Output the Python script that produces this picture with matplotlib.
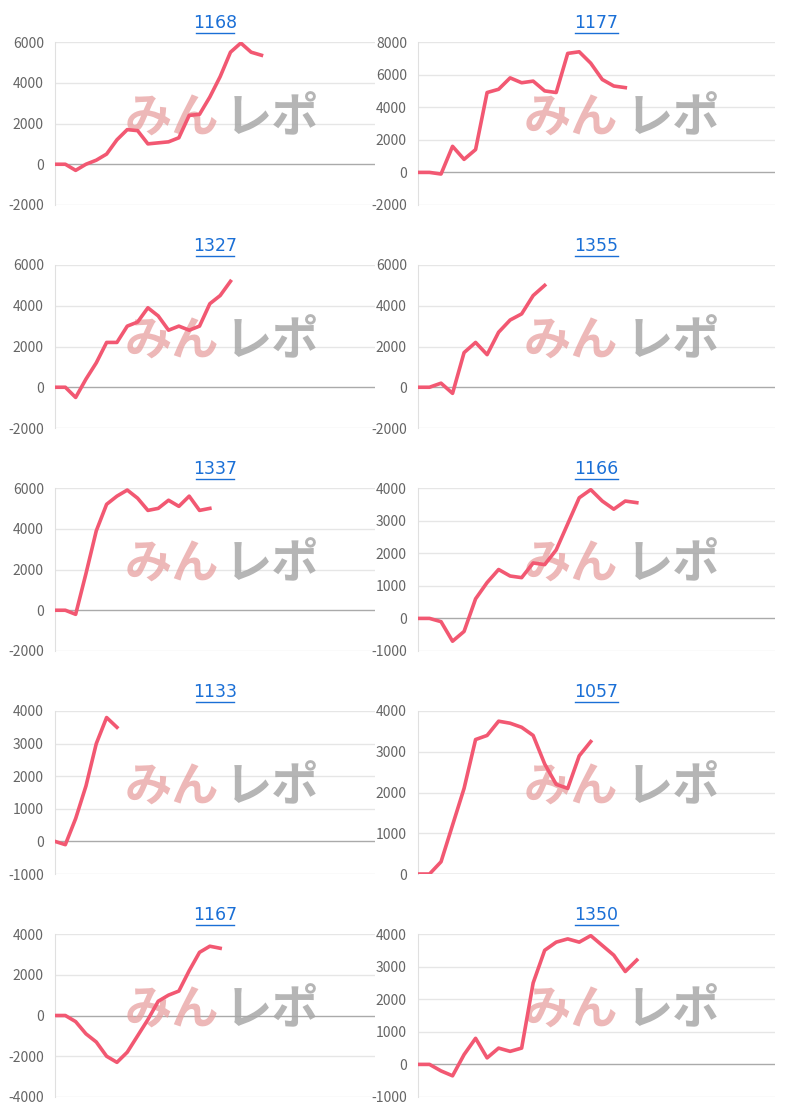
import matplotlib
matplotlib.use("Agg")
import matplotlib.pyplot as plt

plt.rcParams['font.family'] = ['Noto Sans CJK JP', 'DejaVu Sans']
plt.rcParams['axes.unicode_minus'] = False

titles = ["1168", "1177", "1327", "1355", "1337", "1166", "1133", "1057", "1167", "1350"]
s1168 = [0, 0, -300, 0, 200, 500, 1200, 1700, 1650, 1000, 1050, 1100, 1300, 2400, 2450, 3300, 4300, 5500, 5950, 5500, 5350]
s1177 = [0, 0, -100, 1600, 800, 1400, 4900, 5100, 5800, 5500, 5600, 5000, 4900, 7300, 7400, 6700, 5700, 5300, 5200]
s1327 = [0, 0, -500, 400, 1200, 2200, 2200, 3000, 3200, 3900, 3500, 2800, 3000, 2800, 3000, 4100, 4500, 5200]
s1355 = [0, 0, 200, -300, 1700, 2200, 1600, 2700, 3300, 3600, 4500, 5000]
s1337 = [0, 0, -200, 1800, 3900, 5200, 5600, 5900, 5500, 4900, 5000, 5400, 5100, 5600, 4900, 5000]
s1166 = [0, 0, -100, -700, -400, 600, 1100, 1500, 1300, 1250, 1700, 1650, 2100, 2900, 3700, 3950, 3600, 3350, 3600, 3550]
s1133 = [0, -100, 700, 1700, 3000, 3800, 3500]
s1057 = [0, 0, 300, 1200, 2100, 3300, 3400, 3750, 3700, 3600, 3400, 2700, 2200, 2100, 2900, 3250]
s1167 = [0, 0, -300, -900, -1300, -2000, -2300, -1800, -1000, -200, 700, 1000, 1200, 2200, 3100, 3400, 3300]
s1350 = [0, 0, -200, -350, 300, 800, 200, 500, 400, 500, 2500, 3500, 3750, 3850, 3750, 3950, 3650, 3350, 2850, 3200]
series = [s1168, s1177, s1327, s1355, s1337, s1166, s1133, s1057, s1167, s1350]
yticks = [
    [-2000, 0, 2000, 4000, 6000],
    [-2000, 0, 2000, 4000, 6000, 8000],
    [-2000, 0, 2000, 4000, 6000],
    [-2000, 0, 2000, 4000, 6000],
    [-2000, 0, 2000, 4000, 6000],
    [-1000, 0, 1000, 2000, 3000, 4000],
    [-1000, 0, 1000, 2000, 3000, 4000],
    [0, 1000, 2000, 3000, 4000],
    [-4000, -2000, 0, 2000, 4000],
    [-1000, 0, 1000, 2000, 3000, 4000],
]

W, H = 800, 1120
fig = plt.figure(figsize=(8, 11.2), dpi=100)
for i, (t, s, yt) in enumerate(zip(titles, series, yticks)):
    r, c = divmod(i, 2)
    left, width = (55, 320) if c == 0 else (418, 357)
    top = 42 + 223 * r
    bottom = 205 + 223 * r
    ax = fig.add_axes([left / W, 1 - bottom / H, width / W, (bottom - top) / H])
    ax.plot(range(len(s)), s, color='#f25872', lw=2.6, zorder=3)
    ax.set_xlim(0, 31)
    ax.set_ylim(yt[0], yt[-1])
    ax.set_yticks(yt)
    ax.set_xticks([])
    ax.tick_params(axis='y', length=0, labelsize=10, colors='#666666', pad=8)
    for v in yt:
        ax.axhline(v, color='#aaaaaa' if v == 0 else '#e6e6e6', lw=1, zorder=0)
    for sp in ['top', 'right', 'bottom']:
        ax.spines[sp].set_visible(False)
    ax.spines['left'].set_color('#e0e0e0')
    ax.text(0.5, 1.06, t, transform=ax.transAxes, ha='center', va='bottom',
            color='#1a6fd6', fontsize=12.5, family=['DejaVu Sans'])
    ax.plot([0.44, 0.56], [1.055, 1.055], transform=ax.transAxes, color='#1a6fd6', lw=1, clip_on=False)
    mid = (222 - left) / width if c == 0 else (622 - left) / width
    ax.text(mid - 0.01, 0.53, "みん", transform=ax.transAxes, ha='right', va='center',
            color='#e8a0a0', alpha=0.75, fontsize=34, fontweight='bold', style='italic', zorder=1)
    ax.text(mid + 0.01, 0.53, "レポ", transform=ax.transAxes, ha='left', va='center',
            color='#a8a8a8', alpha=0.85, fontsize=34, fontweight='bold', style='italic', zorder=1)

fig.savefig("out.png", dpi=100, facecolor='white')
